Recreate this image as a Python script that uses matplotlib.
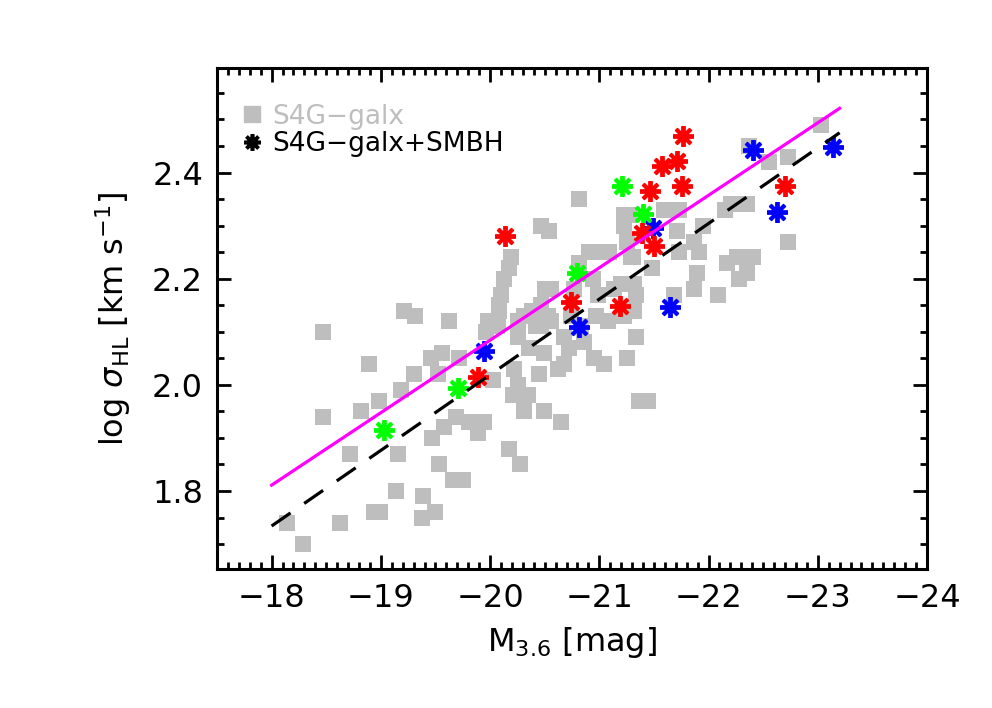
import matplotlib
matplotlib.use("Agg")
import matplotlib.pyplot as plt
from matplotlib.ticker import MultipleLocator, FixedLocator
from matplotlib.lines import Line2D

# S4G galaxies (grey squares)
galx_mag = [-18.14, -18.29, -18.47, -18.47, -18.63, -18.72, -18.82, -18.89, -18.94, -18.99,
            -18.98, -19.14, -19.16, -19.18, -19.21, -19.31, -19.30, -19.38, -19.39, -19.46,
            -19.47, -19.50, -19.52, -19.53, -19.56, -19.58, -19.62, -19.66, -19.69, -19.72,
            -19.75, -19.81, -19.89, -19.96, -20.06, -20.08, -20.08, -20.10, -20.13, -20.17,
            -20.19, -20.07, -19.98, -20.03, -19.94, -20.17, -20.27, -20.22, -20.26, -20.21,
            -20.35, -20.31, -20.49, -20.65, -20.45, -20.62, -20.68, -20.26, -20.26, -20.31,
            -20.36, -20.49, -20.42, -20.53, -20.38, -20.47, -20.50, -20.56, -20.47, -20.54,
            -20.81, -20.68, -20.72, -20.86, -20.95, -21.04, -20.97, -20.77, -20.81, -20.91,
            -21.04, -21.09, -20.94, -20.99, -21.13, -21.20, -21.23, -21.08, -20.83, -21.23,
            -21.23, -21.31, -21.31, -21.34, -21.25, -21.36, -21.45, -20.74, -20.56, -20.47,
            -21.27, -21.29, -21.32, -21.34, -21.32, -21.48, -21.59, -21.73, -21.71, -21.87,
            -21.91, -21.73, -21.89, -21.68, -21.87, -22.09, -21.95, -22.15, -22.21, -22.35,
            -22.17, -22.26, -22.41, -22.28, -22.35, -22.73, -22.37, -22.55, -22.73, -23.03,
            -21.25]
galx_sig = [1.74, 1.70, 2.10, 1.94, 1.74, 1.87, 1.95, 2.04, 1.76, 1.76,
            1.97, 1.80, 1.87, 1.99, 2.14, 2.13, 2.02, 1.75, 1.79, 2.05,
            1.90, 1.76, 2.02, 1.85, 2.06, 1.92, 2.12, 1.82, 1.94, 2.05,
            1.82, 1.93, 1.91, 2.10, 2.11, 2.14, 2.15, 2.17, 2.20, 2.22,
            2.24, 2.12, 2.12, 2.01, 1.93, 1.88, 1.85, 2.03, 2.00, 1.98,
            1.98, 1.95, 1.95, 1.93, 2.02, 2.03, 2.04, 2.09, 2.12, 2.13,
            2.07, 2.06, 2.11, 2.13, 2.14, 2.15, 2.18, 2.18, 2.30, 2.29,
            2.35, 2.09, 2.07, 2.08, 2.05, 2.04, 2.13, 2.18, 2.23, 2.25,
            2.25, 2.25, 2.20, 2.17, 2.18, 2.19, 2.13, 2.12, 2.11, 2.32,
            2.30, 2.24, 2.19, 2.09, 2.05, 1.97, 1.97, 2.13, 2.12, 2.11,
            2.32, 2.24, 2.19, 2.17, 2.14, 2.22, 2.33, 2.33, 2.29, 2.27,
            2.25, 2.25, 2.21, 2.17, 2.18, 2.17, 2.30, 2.33, 2.34, 2.34,
            2.23, 2.24, 2.24, 2.20, 2.21, 2.27, 2.45, 2.42, 2.43, 2.49,
            2.27]

# galaxies hosting SMBHs, split by colour
green_mag = [-19.03, -19.71, -20.80, -21.21, -21.40]
green_sig = [1.915, 1.994, 2.211, 2.374, 2.321]
red_mag = [-20.14, -20.74, -21.19, -19.89, -21.77, -21.71, -21.57, -21.76, -21.46, -21.39, -21.50, -22.70]
red_sig = [2.281, 2.157, 2.149, 2.015, 2.468, 2.421, 2.413, 2.374, 2.365, 2.287, 2.261, 2.374]
blue_mag = [-22.41, -23.14, -22.63, -21.65, -21.49, -20.81, -19.94]
blue_sig = [2.443, 2.449, 2.325, 2.147, 2.296, 2.109, 2.064]

# fitted relations (end points)
fit_mag = [-18.0, -23.2]
fit_solid = [1.811, 2.521]
fit_dashed = [1.734, 2.475]

grey = '#BEBEBE'
star = (8, 2, 0)

fig = plt.figure(figsize=(9.92, 7.08), dpi=100)
ax = fig.add_axes([217/992, 139/708, 710/992, 501/708])

ax.plot(galx_mag, galx_sig, 's', color=grey, markersize=11.5, markeredgewidth=0, linestyle='none')
for mag, sig, c in [(blue_mag, blue_sig, '#0000FF'), (green_mag, green_sig, '#00FF00'),
                    (red_mag, red_sig, '#FF0000')]:
    ax.plot(mag, sig, marker=star, color=c, markersize=15, markeredgewidth=2.8, linestyle='none')

ax.plot(fit_mag, fit_solid, '-', color='#FF00FF', linewidth=2.3)
ax.plot(fit_mag, fit_dashed, color='black', linewidth=2.3, linestyle=(0, (7.2, 5.2)))

ax.set_xlim(-17.5, -24)
ax.set_ylim(1.653, 2.597)
ax.xaxis.set_major_locator(FixedLocator([-18, -19, -20, -21, -22, -23, -24]))
ax.xaxis.set_minor_locator(MultipleLocator(0.1))
ax.yaxis.set_major_locator(FixedLocator([1.8, 2.0, 2.2, 2.4]))
ax.yaxis.set_minor_locator(MultipleLocator(0.05))
ax.set_yticklabels(['1.8', '2.0', '2.2', '2.4'])

ax.tick_params(which='both', direction='in', top=True, right=True, width=2, labelsize=23, pad=10)
ax.tick_params(which='major', length=10)
ax.tick_params(which='minor', length=5)
for s in ax.spines.values():
    s.set_linewidth(2.2)

ax.set_xlabel(r'M$_{3.6}$ [mag]', fontsize=23, labelpad=8)
ax.set_ylabel(r'log $\sigma_{\rm HL}$ [km s$^{-1}$]', fontsize=23, labelpad=14)

handles = [Line2D([], [], marker='s', color=grey, markersize=12, linestyle='none'),
           Line2D([], [], marker=star, color='black', markersize=12, markeredgewidth=2.6, linestyle='none')]
leg = ax.legend(handles, ['S4G−galx', 'S4G−galx+SMBH'], loc='upper left', bbox_to_anchor=(0.02, 0.95),
                frameon=False, fontsize=19, handlelength=0.8, handletextpad=0.35, labelspacing=0.05,
                borderaxespad=0, labelcolor=[grey, 'black'])

fig.savefig('out.png', dpi=100)
